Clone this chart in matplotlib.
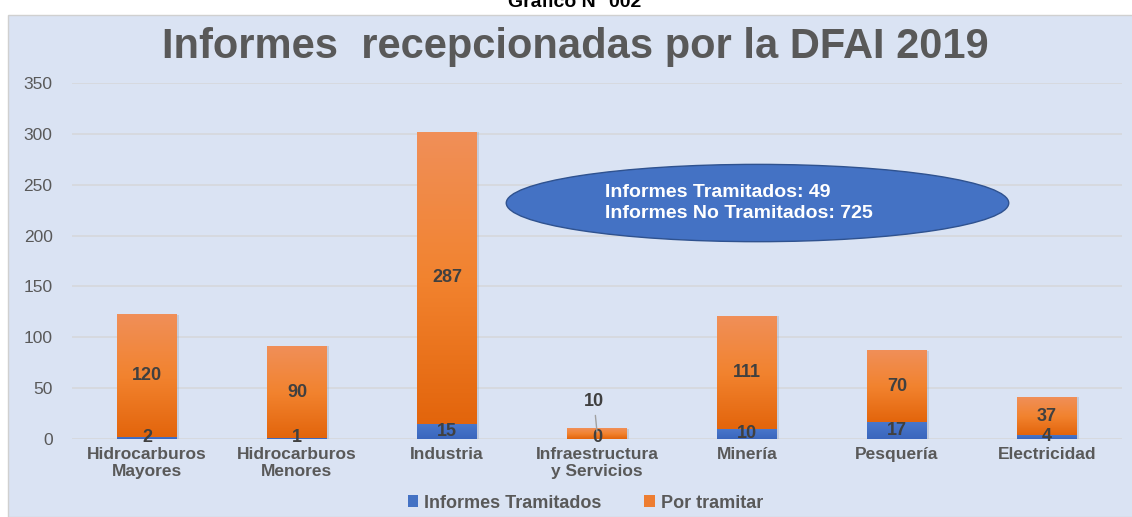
import numpy as np
import matplotlib.pyplot as plt
from matplotlib.patches import Rectangle, Ellipse
from matplotlib.colors import LinearSegmentedColormap

plt.rcParams['font.family'] = ['Liberation Sans', 'DejaVu Sans']

### DATA ###
categorias = ["Hidrocarburos\nMayores", "Hidrocarburos\nMenores", "Industria",
              "Infraestructura\ny Servicios", "Minería", "Pesquería", "Electricidad"]
tramitados = [2, 1, 15, 0, 10, 17, 4]
por_tramitar = [120, 90, 287, 10, 111, 70, 37]
series_nombres = ["Informes Tramitados", "Por tramitar"]
titulo = "Informes  recepcionadas por la DFAI 2019"
nota = "Informes Tramitados: 49\nInformes No Tramitados: 725"

### STYLE ###
bg = '#dae3f3'
gris = '#595959'
azul = '#4472c4'
naranja = '#ed7d31'
cmap_nar = LinearSegmentedColormap.from_list('nar', ['#e3650c', '#f2832f', '#f08f58'])
cmap_az = LinearSegmentedColormap.from_list('az', ['#3a66bd', '#4a78cc'])
ancho = 0.4

fig = plt.figure(figsize=(11.32, 5.17), dpi=100)
fig.patch.set_facecolor('white')
fig.patches.append(Rectangle((8/1132, 0), 1, 502/517, transform=fig.transFigure,
                             facecolor=bg, edgecolor='#d0d0d0', lw=1, zorder=-5))
fig.text(0.508, 0.9865, "Gráfico N° 002", ha='center', va='baseline',
         fontsize=14, fontweight='bold', color='black')
fig.text(0.508, 0.887, titulo, ha='center', va='baseline',
         fontsize=30, fontweight='bold', color=gris)

ax = fig.add_axes([72/1132, 78/517, 1050/1132, 356/517])
ax.set_facecolor('none')
ax.set_zorder(2)
x = np.arange(len(categorias))

# bars as gradient images
grad = np.linspace(0, 1, 100).reshape(-1, 1)
for i in x:
    b = tramitados[i]
    t = por_tramitar[i]
    # faint shadow
    ax.add_patch(Rectangle((i - ancho/2 + 0.015, 0), ancho, b + t, facecolor='#9aa3b5',
                           alpha=0.35, edgecolor='none', zorder=1))
    if b > 0:
        ax.imshow(grad, cmap=cmap_az, aspect='auto', origin='lower',
                  extent=(i - ancho/2, i + ancho/2, 0, b), zorder=2)
    ax.imshow(grad, cmap=cmap_nar, aspect='auto', origin='lower',
              extent=(i - ancho/2, i + ancho/2, b, b + t), zorder=2)

# labels
lab = dict(ha='center', va='center', fontsize=13, fontweight='bold', color='#404040', zorder=4)
for i in x:
    b = tramitados[i]
    t = por_tramitar[i]
    ax.text(i, max(b / 2, 1), str(b), **lab)
    if t >= 20:
        ax.text(i, b + t / 2, str(t), **lab)
    else:
        ax.annotate(str(t), xy=(i, b + t / 2 + 2), xytext=(i - 0.02, b + t + 27),
                    arrowprops=dict(arrowstyle='-', color='#a0a0a0', lw=1,
                                    shrinkA=2, shrinkB=0), **lab)

# summary ellipse
ax.add_patch(Ellipse((4.07, 232), 3.35, 76, facecolor=azul, edgecolor='#2f528f',
                     lw=1, zorder=3))
ax.text(3.055, 232, nota, ha='left', va='center', fontsize=14, fontweight='bold',
        color='white', linespacing=1.3, zorder=4)

ax.set_xlim(-0.5, len(categorias) - 0.5)
ax.set_ylim(0, 350)
ax.set_yticks(np.arange(0, 351, 50))
ax.yaxis.grid(True, color='#d6d8dc', lw=1.2)
ax.set_axisbelow(True)
for s in ax.spines.values():
    s.set_visible(False)
ax.tick_params(axis='y', length=0, pad=14, labelsize=12.5, labelcolor=gris)
ax.set_xticks(x)
ax.set_xticklabels(categorias, fontsize=12.5, fontweight='bold', color=gris,
                   linespacing=1.15)
ax.tick_params(axis='x', length=0, pad=6)

# legend
h1 = Rectangle((0, 0), 1, 1, facecolor=azul)
h2 = Rectangle((0, 0), 1, 1, facecolor=naranja)
leg = fig.legend([h1, h2], series_nombres, loc='center', bbox_to_anchor=(0.517, 14/517),
                 ncol=2, frameon=False, handlelength=0.6, handleheight=0.6,
                 handletextpad=0.3, columnspacing=2.4,
                 prop={'size': 13, 'weight': 'bold'})
for t in leg.get_texts():
    t.set_color(gris)

plt.savefig('out.png', dpi=100, facecolor=fig.get_facecolor())
